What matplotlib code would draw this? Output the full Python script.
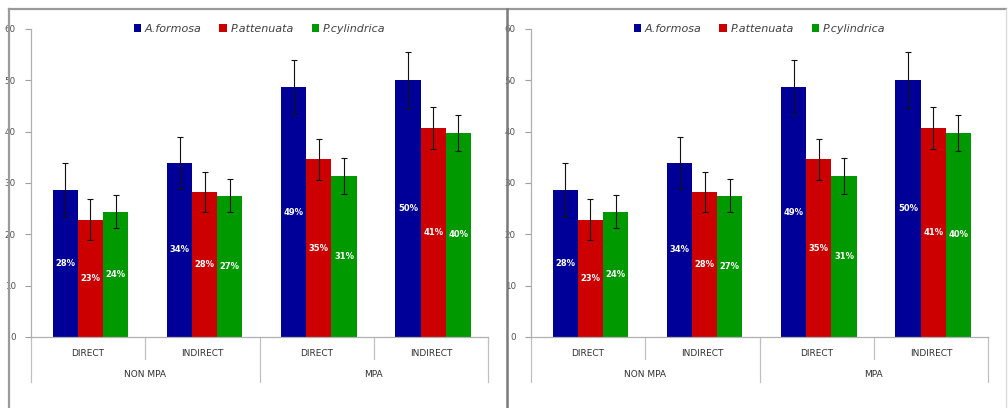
import numpy as np
import matplotlib
matplotlib.use('Agg')
import matplotlib.pyplot as plt
from matplotlib.lines import Line2D
import matplotlib.transforms as mtransforms

# data
categories = ['DIRECT', 'INDIRECT', 'DIRECT', 'INDIRECT']
groups = ['NON MPA', 'MPA']
species = ['A.formosa', 'P.attenuata', 'P.cylindrica']
formosa = [28.6, 33.9, 48.7, 50.1]
attenuata = [22.8, 28.3, 34.6, 40.7]
cylindrica = [24.4, 27.5, 31.4, 39.8]
formosa_err = [5.3, 5.1, 5.3, 5.4]
attenuata_err = [4.0, 3.9, 4.0, 4.1]
cylindrica_err = [3.2, 3.2, 3.5, 3.5]
formosa_pct = ['28%', '34%', '49%', '50%']
attenuata_pct = ['23%', '28%', '35%', '41%']
cylindrica_pct = ['24%', '27%', '31%', '40%']

colors = ['#000099', '#CC0000', '#009900']
W, H = 1008, 408

fig = plt.figure(figsize=(W / 100, H / 100), dpi=100)
fig.patch.set_facecolor('white')


def px(x, y):
    return x / W, 1 - y / H


# panel frames
def fline(x0, y0, x1, y1, **kw):
    a, b = px(x0, y0)
    c, d = px(x1, y1)
    fig.add_artist(Line2D([a, c], [b, d], transform=fig.transFigure, **kw))


fline(9, 9, 1006, 9, color='#9a9a9a', lw=1.6)
fline(9, 9, 9, 408, color='#9a9a9a', lw=1.6)
fline(507, 9, 507, 408, color='#7a7a7a', lw=1.8)
fline(1006, 9, 1006, 408, color='#dcdcdc', lw=1.0)

vals = [formosa, attenuata, cylindrica]
errs = [formosa_err, attenuata_err, cylindrica_err]
pcts = [formosa_pct, attenuata_pct, cylindrica_pct]
ind = np.arange(len(categories))
width = 0.22

for off in (0, 500):
    left, right, top, bottom = 31 + off, 488 + off, 29, 337
    ax = fig.add_axes([left / W, 1 - bottom / H, (right - left) / W, (bottom - top) / H])
    handles = []
    for i in range(3):
        xs = ind + (i - 1) * width + 0.02
        b = ax.bar(xs, vals[i], width, color=colors[i], yerr=errs[i],
                   error_kw=dict(ecolor='#111111', elinewidth=0.8, capsize=2, capthick=0.8),
                   zorder=2)
        handles.append(b[0])
        for x, v, t in zip(xs, vals[i], pcts[i]):
            ax.text(x, v / 2, t, ha='center', va='center', color='white',
                    fontsize=6, fontweight='bold', zorder=3)
    ax.set_xlim(-0.5, 3.5)
    ax.set_ylim(0, 60)
    ax.set_yticks(np.arange(0, 61, 10))
    ax.tick_params(axis='y', labelsize=6.3, colors='#a0a0a0', labelcolor='#505050',
                   length=4, width=0.8, pad=7)
    ax.set_xticks([])
    for s in ('top', 'right'):
        ax.spines[s].set_visible(False)
    for s in ('left', 'bottom'):
        ax.spines[s].set_color('#b0b0b0')
        ax.spines[s].set_linewidth(0.9)

    # hierarchical x axis
    tr = mtransforms.blended_transform_factory(ax.transData, ax.transAxes)
    for xb in [0.5, 2.5]:
        ax.plot([xb, xb], [0, -0.072], transform=tr, color='#c0c0c0', lw=0.9, clip_on=False)
    for xb in [-0.5, 1.5, 3.5]:
        ax.plot([xb, xb], [0, -0.146], transform=tr, color='#c0c0c0', lw=0.9, clip_on=False)
    for x, c in zip(ind, categories):
        ax.text(x, -0.052, c, transform=tr, ha='center', va='center',
                fontsize=6.5, color='#303030')
    for x, g in zip([0.5, 2.5], groups):
        ax.text(x, -0.123, g, transform=tr, ha='center', va='center',
                fontsize=6.5, color='#303030')

    leg = ax.legend(handles, species, loc='center', bbox_to_anchor=(0.5, 1.0),
                    ncol=3, frameon=False, handlelength=0.7, handleheight=0.7,
                    handletextpad=0.3, columnspacing=1.6,
                    prop=dict(size=8, style='italic'))
    for t in leg.get_texts():
        t.set_color('#404040')

fig.savefig('out.png', dpi=100)
